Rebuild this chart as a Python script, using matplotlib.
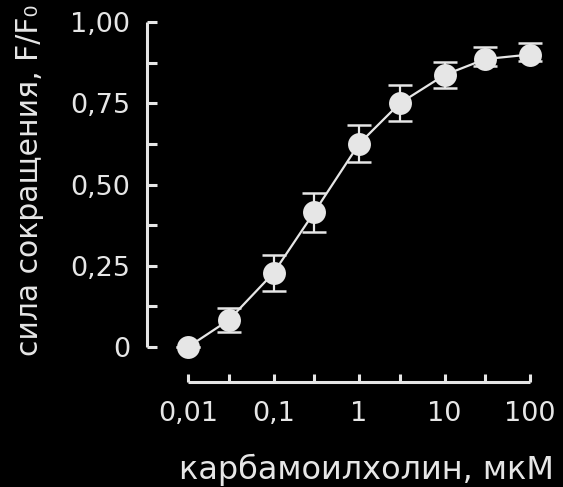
import matplotlib
matplotlib.use("Agg")
import matplotlib.pyplot as plt
import numpy as np

# data
conc = [0.01, 0.03, 0.1, 0.3, 1, 3, 10, 30, 100]
force = [0.0, 0.083, 0.228, 0.415, 0.625, 0.75, 0.837, 0.886, 0.90]
err_low = [0.0, 0.037, 0.055, 0.06, 0.057, 0.055, 0.04, 0.02, 0.02]
err_high = [0.0, 0.037, 0.055, 0.06, 0.057, 0.055, 0.04, 0.038, 0.036]

x_ticks = [0.01, 0.03, 0.1, 0.3, 1, 3, 10, 30, 100]
x_ticklabels = ["0,01", "", "0,1", "", "1", "", "10", "", "100"]
y_ticks = [0, 0.25, 0.5, 0.75, 1.0]
y_ticklabels = ["0", "0,25", "0,50", "0,75", "1,00"]
y_minor = [0.125, 0.375, 0.625, 0.875]

fg = "#e6e6e6"

fig = plt.figure(figsize=(5.63, 4.87), dpi=100, facecolor="black")
ax = fig.add_axes([0.2611, 0.2156, 0.6803, 0.7392])
ax.set_facecolor("black")

ax.errorbar(conc, force, yerr=[err_low, err_high], fmt="-", color=fg, lw=1.6,
            ecolor=fg, elinewidth=1.6, capsize=8.3, capthick=1.8, clip_on=False)
ax.plot(conc, force, "o", color=fg, markersize=16.5, markeredgewidth=0, clip_on=False)

ax.set_xscale("log")
ax.set_xlim(10 ** -2.48, 100)
ax.set_ylim(-0.1077, 1.0)

for s in ["top", "right"]:
    ax.spines[s].set_visible(False)
ax.spines["left"].set_bounds(0, 1)
ax.spines["bottom"].set_bounds(0.01, 100)
for s in ["left", "bottom"]:
    ax.spines[s].set_color(fg)
    ax.spines[s].set_linewidth(2.2)
    ax.spines[s].set_capstyle("butt")

ax.set_xticks(x_ticks)
ax.set_xticklabels(x_ticklabels)
ax.xaxis.set_minor_locator(matplotlib.ticker.NullLocator())
ax.set_yticks(y_ticks)
ax.set_yticklabels(y_ticklabels)
ax.set_yticks(y_minor, minor=True)

ax.tick_params(axis="both", which="both", direction="in", color=fg, width=2.2,
               labelcolor=fg, labelsize=19.5)
ax.tick_params(axis="y", which="both", length=7, pad=12)
ax.tick_params(axis="x", which="both", length=6, pad=14)

fig.text(0.052, 1 - 180 / 487, "сила сокращения, F/F₀", rotation=90,
         ha="center", va="center", color=fg, fontsize=21.5)
fig.text(366 / 563, 1 - 470 / 487, "карбамоилхолин, мкМ",
         ha="center", va="center", color=fg, fontsize=23)

fig.savefig("out.png", dpi=100, facecolor="black")
